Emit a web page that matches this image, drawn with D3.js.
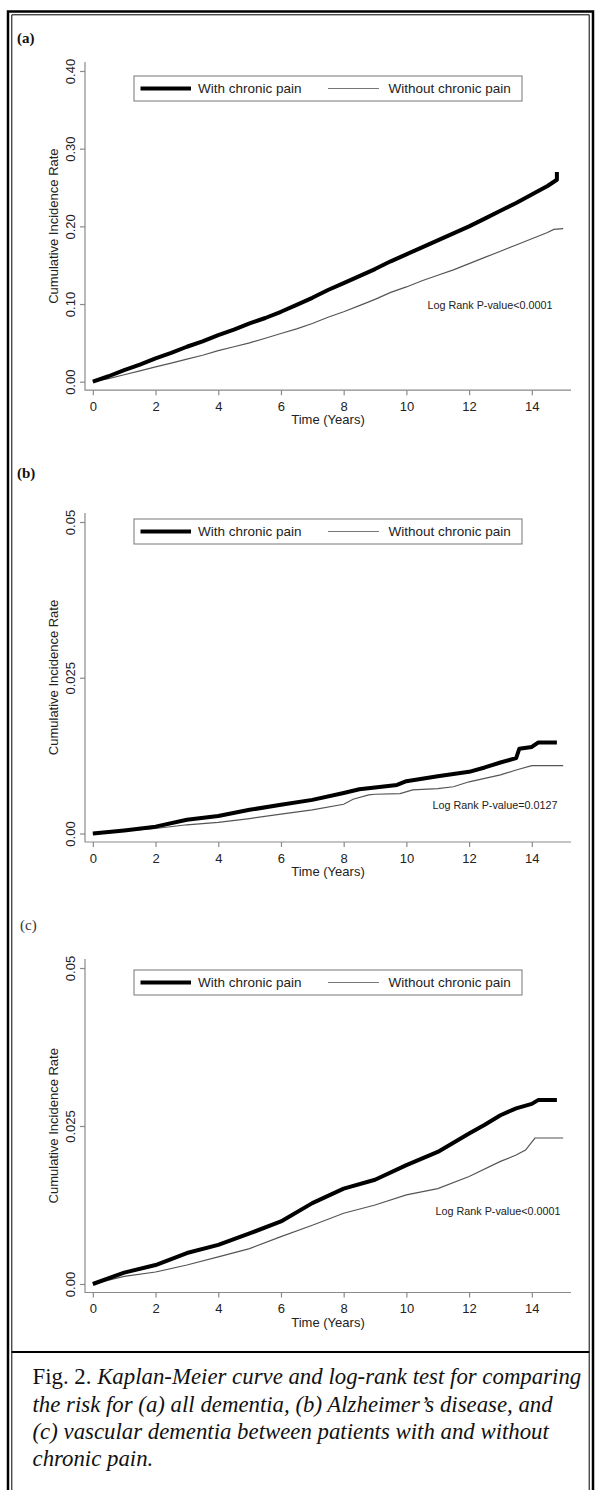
<!DOCTYPE html>
<html>
<head>
<meta charset="utf-8">
<script src="https://cdn.jsdelivr.net/npm/d3@7"></script>
<style>
  body { margin: 0; background: #fff; }
  svg { display: block; }
</style>
</head>
<body>
<div id="chart"></div>
<script>
// ---- data ----
var xTicks = [0, 2, 4, 6, 8, 10, 12, 14];
var seriesNames = ["With chronic pain", "Without chronic pain"];
var panelLabels = ["(a)", "(b)", "(c)"];
var logRankTexts = ["Log Rank P-value<0.0001", "Log Rank P-value=0.0127", "Log Rank P-value<0.0001"];
var yTicksA = [0, 0.10, 0.20, 0.30, 0.40];
var yTicksB = [0, 0.025, 0.05];
var yTicksC = [0, 0.025, 0.05];

// [time, cumulative incidence]
var withPainA = [[0,0],[0.5,0.007],[1,0.015],[1.5,0.022],[2,0.030],[2.5,0.037],[3,0.045],[3.5,0.052],[4,0.060],[4.5,0.067],[5,0.075],[5.5,0.082],[6,0.090],[6.5,0.099],[7,0.108],[7.5,0.118],[8,0.127],[8.5,0.136],[9,0.145],[9.5,0.155],[10,0.164],[10.5,0.173],[11,0.182],[11.5,0.191],[12,0.200],[12.5,0.210],[13,0.220],[13.5,0.230],[14,0.241],[14.5,0.252],[14.8,0.260],[14.8,0.270]];
var withoutPainA = [[0,0],[0.5,0.004],[1,0.009],[1.5,0.014],[2,0.019],[2.5,0.024],[3,0.029],[3.5,0.034],[4,0.040],[4.5,0.045],[5,0.050],[5.5,0.056],[6,0.062],[6.5,0.068],[7,0.075],[7.5,0.083],[8,0.090],[8.5,0.098],[9,0.106],[9.5,0.115],[10,0.122],[10.5,0.130],[11,0.137],[11.5,0.144],[12,0.152],[12.5,0.160],[13,0.168],[13.5,0.176],[14,0.184],[14.5,0.192],[14.7,0.196],[15,0.197]];

var withPainB = [[0,0],[1,0.0005],[2,0.0011],[3,0.0022],[4,0.0028],[5,0.0038],[6,0.0046],[7,0.0054],[8,0.0065],[8.5,0.0071],[9,0.0074],[9.7,0.0078],[10,0.0084],[11,0.0092],[12,0.0099],[12.5,0.0106],[13,0.0114],[13.5,0.0121],[13.6,0.0136],[14,0.0139],[14.2,0.0146],[14.8,0.0146]];
var withoutPainB = [[0,0],[1,0.0004],[2,0.0008],[3,0.0014],[4,0.0018],[5,0.0024],[6,0.0031],[7,0.0038],[8,0.0047],[8.3,0.0055],[8.8,0.0062],[9,0.0063],[9.8,0.0064],[10.2,0.0070],[11,0.0072],[11.5,0.0075],[12,0.0083],[13,0.0094],[13.5,0.0102],[14,0.0109],[15,0.0109]];

var withPainC = [[0,0],[1,0.0018],[2,0.0030],[3,0.0049],[4,0.0062],[5,0.0080],[6,0.0099],[7,0.0128],[8,0.0151],[9,0.0165],[10,0.0188],[11,0.0209],[12,0.0238],[12.5,0.0252],[13,0.0267],[13.5,0.0278],[14,0.0285],[14.2,0.0291],[14.8,0.0291]];
var withoutPainC = [[0,0],[1,0.0012],[2,0.0019],[3,0.0030],[4,0.0043],[5,0.0056],[6,0.0075],[7,0.0093],[8,0.0112],[9,0.0125],[10,0.0141],[11,0.0151],[12,0.0170],[13,0.0194],[13.5,0.0204],[13.8,0.0212],[14.1,0.0231],[15,0.0231]];

var captionLines = [
  ["Fig. 2. ", "Kaplan-Meier curve and log-rank test for comparing"],
  ["", "the risk for (a) all dementia, (b) Alzheimer\u2019s disease, and"],
  ["", "(c) vascular dementia between patients with and without"],
  ["", "chronic pain."]
];

// ---- layout ----
var W = 600, H = 1490;
var sans = "'Liberation Sans', Arial, sans-serif";
var serif = "'Liberation Serif', 'Times New Roman', serif";

var svg = d3.select("#chart").append("svg")
    .attr("width", W)
    .attr("height", H);

// frame
svg.append("path")
    .attr("d", "M8,1490V11.5H593V1490")
    .attr("fill", "none").attr("stroke", "#000").attr("stroke-width", 2.5);
svg.append("path")
    .attr("d", "M11.8,1490V14.8H589.2V1490")
    .attr("fill", "none").attr("stroke", "#000").attr("stroke-width", 1);
svg.append("line")
    .attr("x1", 11.8).attr("x2", 589.2).attr("y1", 1352).attr("y2", 1352)
    .attr("stroke", "#000").attr("stroke-width", 2);

var x = d3.scaleLinear().domain([-0.25, 15.25]).range([85, 571]);

var panels = [
  { label: panelLabels[0], labelX: 17, labelY: 42.5, ticks: yTicksA, fmt: d3.format(".2f"),
    y0: 381.7, yTop: 71, legendTop: 76, logRank: logRankTexts[0], lrX: 427.5, lrY: 309,
    series: [withPainA, withoutPainA] },
  { label: panelLabels[1], labelX: 17, labelY: 478, ticks: yTicksB, fmt: function(d) { return d === 0 ? "0.00" : String(d); },
    y0: 833.5, yTop: 522, legendTop: 519, logRank: logRankTexts[1], lrX: 432.5, lrY: 809,
    series: [withPainB, withoutPainB] },
  { label: panelLabels[2], labelX: 20, labelY: 930, ticks: yTicksC, fmt: function(d) { return d === 0 ? "0.00" : String(d); },
    y0: 1284, yTop: 968, legendTop: 970, logRank: logRankTexts[2], lrX: 435.5, lrY: 1214.7,
    series: [withPainC, withoutPainC], lightLabel: true }
];

var axisColor = "#8a8a8a";
var textColor = "#222";

panels.forEach(function(p) {
    var ymax = d3.max(p.ticks);
    var y = d3.scaleLinear().domain([0, ymax]).range([p.y0, p.yTop]);
    var axisY = p.y0 + 8.5;
    var g = svg.append("g");

    // panel label
    g.append("text")
        .attr("x", p.labelX).attr("y", p.labelY)
        .style("font-family", serif).style("font-size", "15px")
        .style("font-weight", p.lightLabel ? "normal" : "bold")
        .attr("fill", p.lightLabel ? "#333" : "#111")
        .text(p.label);

    // L-shaped axes
    g.append("path")
        .attr("d", "M85," + (p.yTop - 9) + "V" + axisY + "H571")
        .attr("fill", "none").attr("stroke", axisColor).attr("stroke-width", 1.2);

    // y axis
    var ya = g.append("g")
        .attr("transform", "translate(85,0)")
        .call(d3.axisLeft(y).tickValues(p.ticks).tickSize(5).tickFormat(p.fmt));
    ya.select(".domain").remove();
    ya.selectAll(".tick line").attr("stroke", axisColor).attr("stroke-width", 1.2);
    ya.selectAll(".tick text")
        .attr("x", null).attr("dy", null)
        .attr("transform", "translate(-10,0) rotate(-90)")
        .attr("text-anchor", "middle")
        .style("font-family", sans).style("font-size", "13px")
        .attr("fill", textColor);

    // x axis
    var xa = g.append("g")
        .attr("transform", "translate(0," + axisY + ")")
        .call(d3.axisBottom(x).tickValues(xTicks).tickSize(5));
    xa.select(".domain").remove();
    xa.selectAll(".tick line").attr("stroke", axisColor).attr("stroke-width", 1.2);
    xa.selectAll(".tick text")
        .attr("y", 20.5).attr("dy", null)
        .style("font-family", sans).style("font-size", "13px")
        .attr("fill", textColor);

    // axis titles
    g.append("text")
        .attr("transform", "translate(57.5," + ((p.yTop - 9 + axisY) / 2) + ") rotate(-90)")
        .attr("text-anchor", "middle")
        .style("font-family", sans).style("font-size", "13px")
        .attr("fill", textColor)
        .text("Cumulative Incidence Rate");
    g.append("text")
        .attr("x", 328).attr("y", axisY + 34)
        .attr("text-anchor", "middle")
        .style("font-family", sans).style("font-size", "13px")
        .attr("fill", textColor)
        .text("Time (Years)");

    // curves
    var line = d3.line()
        .x(function(d) { return x(d[0]); })
        .y(function(d) { return y(d[1]); });
    g.append("path")
        .datum(p.series[1])
        .attr("d", line)
        .attr("fill", "none").attr("stroke", "#555").attr("stroke-width", 1.2);
    g.append("path")
        .datum(p.series[0])
        .attr("d", line)
        .attr("fill", "none").attr("stroke", "#000").attr("stroke-width", 4)
        .attr("stroke-linejoin", "round");

    // log rank note
    g.append("text")
        .attr("x", p.lrX).attr("y", p.lrY)
        .style("font-family", sans).style("font-size", "11px")
        .attr("textLength", 125).attr("lengthAdjust", "spacingAndGlyphs")
        .attr("fill", textColor)
        .text(p.logRank);

    // legend
    var lg = g.append("g").attr("transform", "translate(134," + p.legendTop + ")");
    lg.append("rect")
        .attr("width", 388).attr("height", 25)
        .attr("fill", "#fff").attr("stroke", "#777").attr("stroke-width", 1);
    lg.append("line").attr("x1", 6.5).attr("x2", 57).attr("y1", 12.5).attr("y2", 12.5)
        .attr("stroke", "#000").attr("stroke-width", 4);
    lg.append("text").attr("x", 64).attr("y", 17.3)
        .style("font-family", sans).style("font-size", "13.5px").attr("fill", textColor)
        .text(seriesNames[0]);
    lg.append("line").attr("x1", 194).attr("x2", 245).attr("y1", 12.5).attr("y2", 12.5)
        .attr("stroke", "#777").attr("stroke-width", 1.2);
    lg.append("text").attr("x", 254.4).attr("y", 17.3)
        .style("font-family", sans).style("font-size", "13.5px").attr("fill", textColor)
        .text(seriesNames[1]);
});

// caption
var cap = svg.append("g");
var baselines = [1384, 1412, 1439, 1466];
var capTexts = captionLines.map(function(l, i) {
    var t = cap.append("text")
        .attr("x", 32.5).attr("y", baselines[i])
        .style("font-family", serif).style("font-size", "20px")
        .attr("fill", "#111");
    if (l[0]) t.append("tspan").text(l[0]);
    t.append("tspan").style("font-style", "italic").text(l[1]);
    return t;
});
var natural = capTexts[0].node().getComputedTextLength();
var fs = 20 * 549 / natural;
capTexts.forEach(function(t) { t.style("font-size", fs + "px"); });
</script>
</body>
</html>
